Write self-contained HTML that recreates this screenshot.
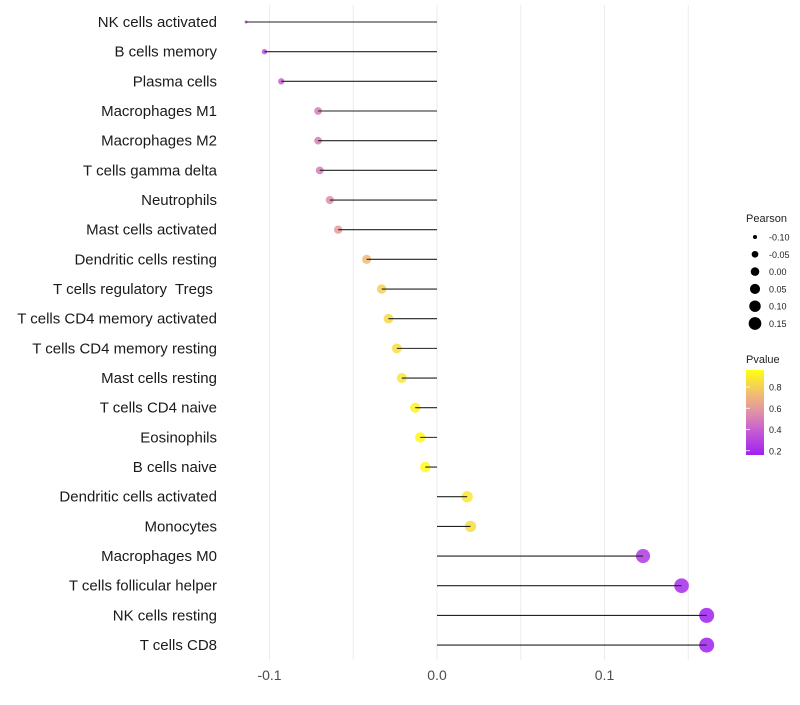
<!DOCTYPE html>
<html><head><meta charset="utf-8"><style>
body{margin:0;background:#fff;font-family:"Liberation Sans",sans-serif}
svg text{font-family:"Liberation Sans",sans-serif;white-space:pre}
</style></head><body>
<svg id="chart" width="800" height="700" xmlns="http://www.w3.org/2000/svg">
<defs><linearGradient id="pg" x1="0" y1="1" x2="0" y2="0">
<stop offset="0" stop-color="#A020F0"/><stop offset="0.3" stop-color="#C860D0"/><stop offset="0.5" stop-color="#E090A8"/><stop offset="0.7" stop-color="#F0B878"/><stop offset="1" stop-color="#FFFF10"/></linearGradient></defs>
<g id="grid"></g><g id="marks"></g><g id="labels"></g>
<g>
<text x="746" y="222" font-size="11" fill="#222">Pearson</text>
<g id="sizeLeg"></g></g>
<g>
<text x="746" y="363" font-size="11" fill="#222">Pvalue</text>
<rect x="746" y="370" width="18" height="85" fill="url(#pg)"/>
<g id="colLeg"></g></g>
</svg>
<script>
const categories=["NK cells activated","B cells memory","Plasma cells","Macrophages M1","Macrophages M2","T cells gamma delta","Neutrophils","Mast cells activated","Dendritic cells resting","T cells regulatory  Tregs ","T cells CD4 memory activated","T cells CD4 memory resting","Mast cells resting","T cells CD4 naive","Eosinophils","B cells naive","Dendritic cells activated","Monocytes","Macrophages M0","T cells follicular helper","NK cells resting","T cells CD8"];
const pearson=[-0.114,-0.103,-0.093,-0.071,-0.071,-0.070,-0.064,-0.059,-0.042,-0.033,-0.029,-0.024,-0.021,-0.013,-0.010,-0.007,0.018,0.020,0.123,0.146,0.161,0.161];
const pvalue=[0.3,0.35,0.4,0.5,0.5,0.5,0.55,0.6,0.72,0.8,0.83,0.85,0.87,0.92,0.94,0.95,0.88,0.85,0.25,0.2,0.15,0.16];
const xTicks=[-0.1,0,0.1];
const xTickLabels=["-0.1","0.0","0.1"];
const sizeLegendValues=[-0.10,-0.05,0.00,0.05,0.10,0.15];
const colorLegendValues=[0.8,0.6,0.4,0.2];
const NS="http://www.w3.org/2000/svg";
const x=v=>437+v*1675;
const y=i=>22+i*29.67;
const r=v=>1.5+6*Math.sqrt(Math.max(0,(v+0.114)/0.275));
const rl=v=>Math.sqrt(Math.max(1.5,4+(v+0.1)*144));
const cy=p=>455-(p-0.16)/0.8*85;
const stops=[[0.16,[160,32,240]],[0.4,[200,96,208]],[0.56,[224,144,168]],[0.72,[240,184,120]],[0.96,[255,255,16]]];
function col(p){if(p<=stops[0][0])return`rgb(${stops[0][1]})`;for(let k=1;k<stops.length;k++){if(p<=stops[k][0]){const a=stops[k-1],b=stops[k],t=(p-a[0])/(b[0]-a[0]);return`rgb(${a[1].map((c,j)=>Math.round(c+(b[1][j]-c)*t))})`;}}return`rgb(${stops[stops.length-1][1]})`;}
function mk(t,at,par){const e=document.createElementNS(NS,t);for(const k in at)e.setAttribute(k,at[k]);document.getElementById(par).appendChild(e);return e;}
for(let v=-0.15;v<=0.151;v+=0.05){const gx=x(v);if(gx<225||gx>720)continue;const l=mk("line",{x1:gx,x2:gx,y1:5,y2:660,stroke:"#ebebeb","stroke-width":1},"grid");

}
xTicks.forEach((v,i)=>{const t=mk("text",{x:x(v),y:680,"text-anchor":"middle","font-size":"14",fill:"#4d4d4d"},"labels");t.textContent=xTickLabels[i];

});
categories.forEach((c,i)=>{const t=mk("text",{x:217,y:y(i)+5,"text-anchor":"end","font-size":"15",fill:"#1a1a1a"},"labels");t.textContent=c;


const ci=mk("circle",{cx:x(pearson[i]),cy:y(i),r:r(pearson[i]),fill:col(pvalue[i]),"fill-opacity":0.85},"marks");


const l=mk("line",{x1:x(0),x2:x(pearson[i]),y1:y(i),y2:y(i),stroke:"#222","stroke-width":1.1},"marks");

});
sizeLegendValues.forEach((v,i)=>{const yy=237+i*17.3;const c=mk("circle",{cx:755,cy:yy,r:rl(v),fill:"#000"},"sizeLeg");


const t=mk("text",{x:769,y:yy+3.5,"font-size":"9",fill:"#222"},"sizeLeg");t.textContent=v.toFixed(2);

});
colorLegendValues.forEach(p=>{const yy=cy(p);const t=mk("text",{x:769,y:yy+3.5,"font-size":"9",fill:"#222"},"colLeg");t.textContent=p.toFixed(1);


const tk=mk("line",{x1:746,x2:750,y1:yy,y2:yy,stroke:"#fff","stroke-width":0.8},"colLeg");

});
</script>
</body></html>
